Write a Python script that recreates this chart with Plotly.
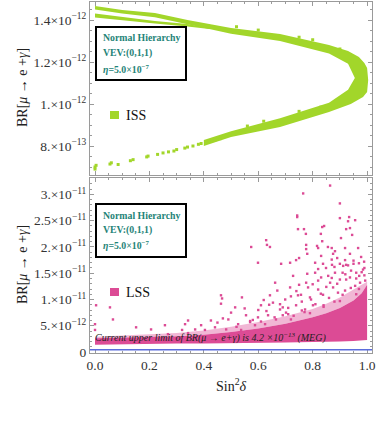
import plotly.graph_objects as go

# ---------------- data (BR values in units of 1e-12) ----------------
# ISS: dense band, outer boundary then inner boundary
iss_outer_x = [0.40, 0.50, 0.68, 0.86, 0.94, 0.985, 1.0, 1.004, 1.0, 0.99, 0.97, 0.93, 0.86, 0.68, 0.50, 0.34, 0.22, 0.10, 0.0]
iss_outer_br = [0.800, 0.843, 0.890, 0.962, 1.000, 1.033, 1.057, 1.114, 1.171, 1.195, 1.224, 1.252, 1.281, 1.333, 1.362, 1.400, 1.433, 1.448, 1.467]
iss_inner_x = [0.0, 0.10, 0.22, 0.34, 0.50, 0.68, 0.86, 0.93, 0.955, 0.93, 0.86, 0.68, 0.50, 0.40]
iss_inner_br = [1.450, 1.431, 1.413, 1.380, 1.334, 1.300, 1.240, 1.192, 1.124, 1.068, 1.006, 0.932, 0.870, 0.828]
# ISS: second thin strip near the top-left
iss_strip_x = [0.0, 0.10, 0.22, 0.34, 0.42]
iss_strip_top = [1.431, 1.413, 1.395, 1.381, 1.362]
iss_strip_bot = [1.412, 1.397, 1.383, 1.369, 1.357]
# ISS: sparse points
iss_pts_x = [0.0, 0.0, 0.004, 0.055, 0.06, 0.085, 0.13, 0.14, 0.19, 0.195, 0.23, 0.25, 0.27, 0.29,
             0.30, 0.33, 0.34, 0.36, 0.38, 0.39, 0.42, 0.44, 0.46, 0.47,
             0.52, 0.60, 0.75, 0.80, 0.90, 0.62, 0.75, 0.56, 0.83]
iss_pts_br = [0.700, 0.690, 0.708, 0.714, 0.720, 0.712, 0.730, 0.735, 0.748, 0.752, 0.760, 0.767, 0.772, 0.776,
              0.783, 0.790, 0.795, 0.800, 0.808, 0.812, 0.822, 0.828, 0.835, 0.843,
              1.368, 1.352, 1.318, 1.306, 1.262, 0.918, 0.965, 0.895, 0.985]

# LSS: dense core and lighter fringe
lss_core_x = [0.0, 0.1, 0.2, 0.3, 0.4, 0.5, 0.6, 0.7, 0.8, 0.85, 0.9, 0.95, 0.98, 1.0]
lss_core_top = [2.6, 2.7, 2.8, 3.0, 3.3, 3.8, 4.5, 5.4, 6.6, 7.4, 8.4, 9.8, 11.2, 12.8]
lss_core_bot = [1.4, 1.5, 1.5, 1.6, 1.6, 1.7, 1.7, 1.8, 1.9, 1.9, 2.0, 2.1, 2.2, 2.3]
lss_fringe_top = [2.9, 3.1, 3.3, 3.6, 4.1, 4.8, 5.7, 6.8, 8.2, 9.2, 10.4, 11.8, 12.8, 13.4]
# LSS: sparse points
lss_pts_x = [0.864, 0.765, 0.900, 0.743, 0.743, 0.934, 0.900, 0.956, 0.930, 0.842, 0.835, 0.746, 0.768,
             0.937, 0.923, 0.775, 0.830, 0.945, 0.904, 0.629, 0.835, 0.574, 0.643, 0.776, 0.816, 0.856,
             0.870, 0.919, 0.967, 0.776, 0.820, 0.882, 0.780, 0.831, 0.875, 0.937, 0.978, 0.750, 0.739,
             0.890, 0.919, 0.599, 0.684, 0.717, 0.809, 0.838, 0.871, 0.900, 0.923, 0.989, 0.632, 0.467,
             0.540, 0.515,
             0.004, 0.055, 0.066, 0.0, 0.0, 0.151, 0.206, 0.257, 0.320, 0.331, 0.342, 0.368, 0.390,
             0.463, 0.463, 0.500, 0.470, 0.426, 0.526, 0.555, 0.588, 0.610, 0.636, 0.643, 0.662, 0.680,
             0.699, 0.717, 0.728, 0.739, 0.757, 0.776, 0.794, 0.809, 0.820, 0.831, 0.849, 0.864, 0.882,
             0.893, 0.912, 0.923, 0.941, 0.956, 0.971, 0.985, 0.993,
             0.268, 0.342, 0.404, 0.441, 0.482, 0.537, 0.570, 0.599, 0.625, 0.654, 0.665, 0.702, 0.720,
             0.746, 0.772, 0.783, 0.801, 0.820, 0.838, 0.857, 0.875, 0.900, 0.919, 0.937, 0.960, 0.974,
             0.58, 0.61, 0.63, 0.66, 0.68, 0.69, 0.71, 0.73, 0.74, 0.76, 0.77, 0.79, 0.80, 0.81,
             0.83, 0.84, 0.86, 0.87, 0.88, 0.89, 0.91, 0.92, 0.94, 0.95, 0.96, 0.97, 0.98, 0.99,
             0.62, 0.67, 0.72, 0.75, 0.78, 0.82, 0.85, 0.88, 0.91, 0.93, 0.95, 0.97, 0.99, 0.87,
             0.45, 0.49, 0.52, 0.55, 0.57, 0.60, 0.64, 0.69, 0.71, 0.76, 0.79, 0.84, 0.90, 0.96]
lss_pts_br = [31.7, 30.2, 28.3, 26.0, 25.7, 25.7, 25.5, 25.1, 24.9, 24.0, 23.8, 23.4, 23.4,
              23.6, 23.4, 22.5, 22.5, 22.3, 21.7, 21.3, 21.1, 20.0, 20.0, 20.4, 20.2, 20.0,
              19.8, 19.8, 19.8, 19.6, 19.8, 19.2, 18.7, 18.3, 18.7, 18.7, 18.1, 17.9, 17.5,
              17.9, 17.5, 17.0, 16.8, 17.0, 17.0, 16.8, 16.6, 16.8, 16.6, 17.2, 20.4, 10.2,
              10.4, 8.5,
              8.9, 8.5, 6.2, 5.3, 4.2, 4.7, 4.3, 5.1, 4.2, 5.3, 6.0, 4.3, 5.1,
              10.8, 9.2, 7.5, 6.4, 6.0, 5.3, 7.0, 5.1, 8.9, 7.0, 10.8, 13.2, 8.1,
              10.0, 12.3, 14.5, 8.9, 10.9, 13.2, 10.0, 15.1, 11.9, 14.2, 16.0, 13.2, 15.1,
              11.3, 16.4, 13.8, 15.5, 12.6, 14.5, 15.7, 13.6,
              3.4, 3.6, 4.2, 4.7, 4.3, 4.2, 5.7, 6.6, 5.3, 9.4, 6.2, 7.5, 6.2,
              10.8, 8.1, 12.3, 8.9, 13.6, 10.9, 14.5, 12.3, 13.8, 11.7, 14.2, 15.1, 13.2,
              6.1, 5.8, 7.8, 6.6, 9.1, 7.0, 8.4, 6.9, 11.6, 9.6, 7.6, 10.4, 12.9, 9.1,
              11.1, 8.6, 10.3, 14.1, 9.6, 13.0, 10.9, 14.8, 12.2, 16.8, 14.0, 12.0, 15.2, 14.6,
              9.9, 11.7, 10.6, 12.8, 14.9, 15.8, 12.4, 16.2, 15.1, 16.5, 17.4, 16.9, 16.0, 17.6,
              5.6, 6.2, 4.8, 8.3, 5.9, 8.0, 9.0, 8.5, 7.2, 7.9, 7.4, 8.9, 9.7, 11.0]

MEG_LIMIT = 0.42  # 4.2e-13 in units of 1e-12

x_tickvals = [0.0, 0.2, 0.4, 0.6, 0.8, 1.0]
x_ticktext = ["0.0", "0.2", "0.4", "0.6", "0.8", "1.0"]
top_tickvals = [0.8, 1.0, 1.2, 1.4]
top_ticktext = ["8.×10<sup>−13</sup>", "1.×10<sup>−12</sup>", "1.2×10<sup>−12</sup>", "1.4×10<sup>−12</sup>"]
bot_tickvals = [0, 5, 10, 15, 20, 25, 30]
bot_ticktext = ["0", "5.×10<sup>−12</sup>", "1.×10<sup>−11</sup>", "1.5×10<sup>−11</sup>",
                "2.×10<sup>−11</sup>", "2.5×10<sup>−11</sup>", "3.×10<sup>−11</sup>"]

# ---------------- styling ----------------
GREEN = "#a2d62a"
PINK = "#dc4b95"
TEAL = "#1f8478"
SERIF = "Liberation Serif, Times New Roman, serif"
W, H = 382, 445
L, R, T, B = 90, 10, 2, 92
PW, PH = W - L - R, H - T - B


def px(xp, yp):
    return (xp - L) / PW, (H - B - yp) / PH


fig = go.Figure()

# ISS
fig.add_trace(go.Scatter(x=iss_outer_x + iss_inner_x, y=iss_outer_br + iss_inner_br, fill="toself",
                         mode="lines", line=dict(width=0), fillcolor=GREEN,
                         xaxis="x", yaxis="y", hoverinfo="skip"))
fig.add_trace(go.Scatter(x=iss_strip_x + iss_strip_x[::-1], y=iss_strip_top + iss_strip_bot[::-1],
                         fill="toself", mode="lines", line=dict(width=0), fillcolor=GREEN,
                         xaxis="x", yaxis="y", hoverinfo="skip"))
fig.add_trace(go.Scatter(x=iss_pts_x, y=iss_pts_br, mode="markers",
                         marker=dict(color=GREEN, size=3, symbol="square", line=dict(width=0)),
                         xaxis="x", yaxis="y"))

# LSS
fig.add_trace(go.Scatter(x=lss_core_x + lss_core_x[::-1], y=lss_fringe_top + lss_core_top[::-1],
                         fill="toself", mode="lines", line=dict(width=0), fillcolor="rgba(220,75,149,0.4)",
                         xaxis="x2", yaxis="y2", hoverinfo="skip"))
fig.add_trace(go.Scatter(x=lss_core_x + lss_core_x[::-1], y=lss_core_top + lss_core_bot[::-1],
                         fill="toself", mode="lines", line=dict(width=0), fillcolor=PINK,
                         xaxis="x2", yaxis="y2", hoverinfo="skip"))
fig.add_trace(go.Scatter(x=lss_pts_x, y=lss_pts_br, mode="markers",
                         marker=dict(color=PINK, size=2.4, symbol="square", line=dict(width=0)),
                         xaxis="x2", yaxis="y2"))

axis_common = dict(showline=True, linecolor="#9a9a9a", linewidth=1, mirror="ticks",
                   ticks="inside", ticklen=4, tickcolor="#9a9a9a", showgrid=False, zeroline=False,
                   automargin=False, tickfont=dict(family=SERIF, size=13.5, color="#333"))
minor_x = dict(dtick=0.05, ticklen=2, tickcolor="#9a9a9a", ticks="inside")

ytop0 = 0.6619
ytop1 = 1.4857
dom_top = [(H - B - 175) / PH, 1.0]
dom_bot = [0.0, (H - B - 178) / PH]

fig.update_layout(
    template="none",
    width=W, height=H, margin=dict(l=L, r=R, t=T, b=B, autoexpand=False),
    paper_bgcolor="white", plot_bgcolor="white", showlegend=False,
    xaxis=dict(axis_common, domain=[0, 1], anchor="y", range=[-0.0184, 1.018],
               tickvals=x_tickvals, showticklabels=False, minor=minor_x),
    yaxis=dict(axis_common, domain=dom_top, anchor="x", range=[ytop0, ytop1],
               tickvals=top_tickvals, ticktext=top_ticktext,
               minor=dict(dtick=0.05, tick0=0, ticklen=2, tickcolor="#9a9a9a", ticks="inside")),
    xaxis2=dict(axis_common, domain=[0, 1], anchor="y2", range=[-0.0184, 1.018],
                tickvals=x_tickvals, ticktext=x_ticktext, minor=minor_x),
    yaxis2=dict(axis_common, domain=dom_bot, anchor="x2", range=[-0.19, 33.14],
                tickvals=bot_tickvals, ticktext=bot_ticktext,
                minor=dict(dtick=1, tick0=0, ticklen=2, tickcolor="#9a9a9a", ticks="inside")),
)

shapes = []
annotations = []

# MEG limit line
shapes.append(dict(type="line", xref="x2 domain", yref="y2", x0=0, x1=1, y0=MEG_LIMIT, y1=MEG_LIMIT,
                   line=dict(color="#5b6cdb", width=1.5)))

# info boxes
for (y0p, y1p, lines_y) in [(27, 80, [37, 53, 69]), (204, 257, [215, 230, 245])]:
    xa, ya = px(96, y0p)
    xb, yb = px(186, y1p)
    shapes.append(dict(type="rect", xref="paper", yref="paper", x0=xa, x1=xb, y0=yb, y1=ya,
                       line=dict(color="black", width=2), layer="above"))
    texts = ["<b>Normal Hierarchy</b>", "<b>VEV:(0,1,1)</b>", "<b><i>η</i>=5.0×10<sup>−7</sup></b>"]
    for t, ly in zip(texts, lines_y):
        xx, yy = px(101, ly)
        annotations.append(dict(xref="paper", yref="paper", x=xx, y=yy, text=t, showarrow=False,
                                xanchor="left", yanchor="middle",
                                font=dict(family=SERIF, size=9.8, color=TEAL)))

# legend markers
for (cy, label, col) in [(115, "ISS", GREEN), (292, "LSS", PINK)]:
    xa, ya = px(110, cy - 4)
    xb, yb = px(119, cy + 4)
    shapes.append(dict(type="rect", xref="paper", yref="paper", x0=xa, x1=xb, y0=yb, y1=ya,
                       line=dict(width=0), fillcolor=col))
    xx, yy = px(124, cy)
    annotations.append(dict(xref="paper", yref="paper", x=xx, y=yy, text=label, showarrow=False,
                            xanchor="left", yanchor="middle",
                            font=dict(family=SERIF, size=14, color="#111")))

# y axis titles
for cy in [88, 265]:
    xx, yy = px(22, cy)
    annotations.append(dict(xref="paper", yref="paper", x=xx, y=yy, text="BR[<i>μ</i> → e +<i>γ</i>]",
                            showarrow=False, textangle=-90, xanchor="center", yanchor="middle",
                            font=dict(family=SERIF, size=14, color="#222")))

# x axis title
xx, yy = px(231, 385)
annotations.append(dict(xref="paper", yref="paper", x=xx, y=yy, text="Sin<sup>2</sup><i>δ</i>",
                        showarrow=False, xanchor="center", yanchor="middle",
                        font=dict(family=SERIF, size=14, color="#222")))

# MEG text
xx, yy = px(93, 337)
annotations.append(dict(xref="paper", yref="paper", x=xx, y=yy,
                        text="<i>Current upper limit of BR(μ → e+γ) is 4.2 ×10<sup>−13</sup> (MEG)</i>",
                        showarrow=False, xanchor="left", yanchor="middle",
                        font=dict(family=SERIF, size=10, color="#222")))

fig.update_layout(shapes=shapes, annotations=annotations)
fig.write_html("out.html", config={"displayModeBar": False},
               post_script="document.body.style.margin='0';")
